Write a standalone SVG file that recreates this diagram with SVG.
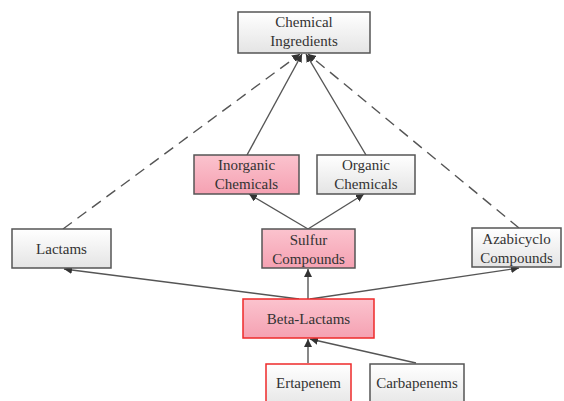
<svg xmlns="http://www.w3.org/2000/svg" width="564" height="401" viewBox="0 0 564 401">
  <defs>
    <linearGradient id="gGray" x1="0" y1="0" x2="0" y2="1">
      <stop offset="0" stop-color="#ffffff"/>
      <stop offset="1" stop-color="#e4e4e4"/>
    </linearGradient>
    <linearGradient id="gPink" x1="0" y1="0" x2="0" y2="1">
      <stop offset="0" stop-color="#fbc3ce"/>
      <stop offset="1" stop-color="#f5a1b2"/>
    </linearGradient>
    <marker id="arr" viewBox="0 0 10 10" refX="10" refY="5" markerWidth="8" markerHeight="8" markerUnits="userSpaceOnUse" orient="auto">
      <path d="M0,0 L10,5 L0,10 z" fill="#333"/>
    </marker>
    <style>
      .box { stroke: #555; stroke-width: 1.5; }
      .gray { fill: url(#gGray); }
      .pink { fill: url(#gPink); }
      .red { stroke: #ee2a2a; }
      text { font-family: "Liberation Serif", "Times New Roman", serif; font-size: 15px; fill: #333; text-anchor: middle; }
      .edge { stroke: #555; stroke-width: 1.4; fill: none; marker-end: url(#arr); }
      .dash { stroke-dasharray: 11 7; }
    </style>
  </defs>

  <!-- connectors -->
  <g id="connectors">
    <line class="edge dash" x1="63" y1="229" x2="300" y2="54"/>
    <line class="edge dash" x1="519" y1="228" x2="308" y2="54"/>
    <line class="edge" x1="247" y1="155" x2="302" y2="54"/>
    <line class="edge" x1="366" y1="155" x2="306" y2="54"/>
    <line class="edge" x1="308" y1="229" x2="249" y2="194"/>
    <line class="edge" x1="308" y1="229" x2="364" y2="194"/>
    <line class="edge" x1="308" y1="299" x2="308" y2="269"/>
    <line class="edge" x1="299" y1="299" x2="64" y2="269"/>
    <line class="edge" x1="310" y1="299" x2="519" y2="268"/>
    <line class="edge" x1="308" y1="363" x2="308" y2="339"/>
    <line class="edge" x1="416" y1="363" x2="310" y2="339"/>
  </g>

  <g id="chemical-ingredients">
    <rect class="box gray" x="238" y="12" width="132" height="41"/>
    <text x="304" y="27">Chemical</text>
    <text x="304" y="46">Ingredients</text>
  </g>

  <g id="inorganic-chemicals">
    <rect class="box pink" x="194" y="155" width="105" height="39"/>
    <text x="246.5" y="170">Inorganic</text>
    <text x="246.5" y="189">Chemicals</text>
  </g>

  <g id="organic-chemicals">
    <rect class="box gray" x="317" y="155" width="98" height="39"/>
    <text x="366" y="170">Organic</text>
    <text x="366" y="189">Chemicals</text>
  </g>

  <g id="lactams">
    <rect class="box gray" x="12" y="229" width="99" height="39"/>
    <text x="61.5" y="254">Lactams</text>
  </g>

  <g id="sulfur-compounds">
    <rect class="box pink" x="262" y="229" width="93" height="39"/>
    <text x="308.5" y="245">Sulfur</text>
    <text x="308.5" y="264">Compounds</text>
  </g>

  <g id="azabicyclo-compounds">
    <rect class="box gray" x="472" y="228" width="89" height="39"/>
    <text x="516.5" y="244">Azabicyclo</text>
    <text x="516.5" y="263">Compounds</text>
  </g>

  <g id="beta-lactams">
    <rect class="box pink red" x="243" y="299" width="131" height="39"/>
    <text x="308.5" y="324">Beta-Lactams</text>
  </g>

  <g id="ertapenem">
    <rect class="box gray red" x="266" y="364" width="85" height="45"/>
    <text x="308.5" y="388">Ertapenem</text>
  </g>

  <g id="carbapenems">
    <rect class="box gray" x="370" y="364" width="94" height="45"/>
    <text x="417" y="388">Carbapenems</text>
  </g>
</svg>
